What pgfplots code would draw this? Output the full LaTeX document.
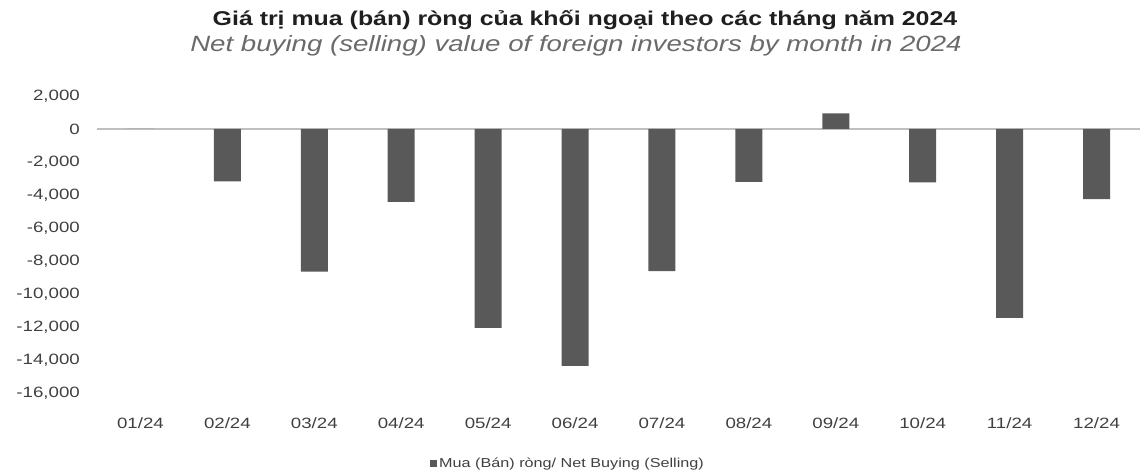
\documentclass[border=0pt]{standalone}
\usepackage{pgfplots}
\pgfplotsset{compat=1.18}
\usepackage{fontspec}
\setmainfont{Liberation Sans}[FakeStretch=1.25]
\definecolor{barcol}{HTML}{595959}
\definecolor{tickcol}{HTML}{404040}
\definecolor{subcol}{HTML}{6A6A6A}
\begin{document}
\begin{tikzpicture}[x=1bp,y=1bp]
\useasboundingbox (0,0) rectangle (1140,475);
\node[font=\fontsize{20}{22}\selectfont\bfseries, text=black!88] at (585,455) {Giá trị mua (bán) ròng của khối ngoại theo các tháng năm 2024};
\node[font=\fontsize{22.2}{24}\selectfont\itshape, text=subcol] at (576,429) {Net buying (selling) value of foreign investors by month in 2024};
\begin{axis}[
  at={(97bp,82bp)}, anchor=south west,
  width=1043bp, height=297bp, scale only axis,
  ybar, bar width=27bp,
  xmin=-0.5, xmax=11.5,
  ymin=-16000, ymax=2000,
  xtick={0,...,11},
  xticklabels={01/24,02/24,03/24,04/24,05/24,06/24,07/24,08/24,09/24,10/24,11/24,12/24},
  ytick={-16000,-14000,...,2000},
  scaled y ticks=false,
  /pgf/number format/fixed,
  /pgf/number format/1000 sep={,},
  /pgf/number format/assume math mode=true,
  extra y ticks={0},
  extra y tick labels={},
  extra y tick style={grid=major, major grid style={draw=black!25, line width=1.2bp}},
  axis line style={draw=none},
  tick style={draw=none},
  ticklabel style={font=\fontsize{15}{17}\selectfont, text=tickcol},
  yticklabel style={inner sep=0pt, xshift=-17bp},
  xticklabel style={inner sep=0pt, yshift=-20bp},
  legend style={at={(0.4516,-0.239)}, anchor=center, draw=none, fill=none,
    font=\fontsize{13}{15}\selectfont, text=tickcol},
  legend image code/.code={\fill[barcol] (0bp,-3.5bp) rectangle (7bp,3.5bp);},
]
\addplot[fill=barcol, draw=none] coordinates {
  (0,0) (1,-3170) (2,-8650) (3,-4410) (4,-12050) (5,-14350)
  (6,-8610) (7,-3200) (8,940) (9,-3240) (10,-11440) (11,-4250)
};
\legend{Mua (Bán) ròng/ Net Buying (Selling)}
\end{axis}
\end{tikzpicture}
\end{document}
